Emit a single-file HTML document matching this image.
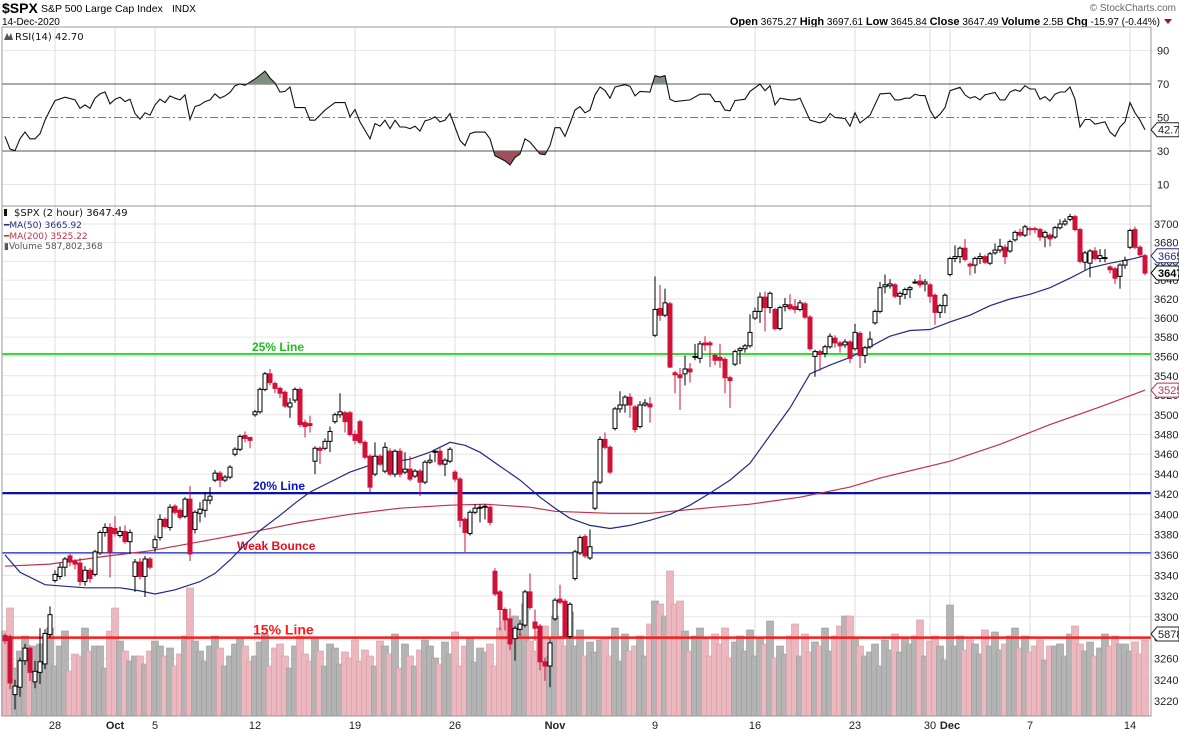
<!DOCTYPE html>
<html><head><meta charset="utf-8"><title>$SPX chart</title>
<style>
html,body{margin:0;padding:0;background:#fff;}
body{width:1179px;height:731px;overflow:hidden;font-family:"Liberation Sans",Arial,sans-serif;}
svg{display:block;}
</style></head>
<body>
<svg id="chart" width="1179" height="731" viewBox="0 0 1179 731" xmlns="http://www.w3.org/2000/svg">
  <g>
    <text x="2" y="13" font-family="Liberation Sans" font-size="14" font-weight="bold">$SPX</text>
    <text x="41" y="12" font-family="Liberation Sans" font-size="10.5">S&amp;P 500 Large Cap Index</text>
    <text x="172" y="12" font-family="Liberation Sans" font-size="10">INDX</text>
    <text x="2" y="25" font-family="Liberation Sans" font-size="10">14-Dec-2020</text>
    <text x="1160" y="25" text-anchor="end" font-family="Liberation Sans" font-size="10"><tspan font-weight="bold" font-size="11">Open</tspan> 3675.27 <tspan font-weight="bold" font-size="11">High</tspan> 3697.61 <tspan font-weight="bold" font-size="11">Low</tspan> 3645.84 <tspan font-weight="bold" font-size="11">Close</tspan> 3647.49 <tspan font-weight="bold" font-size="11">Volume</tspan> 2.5B <tspan font-weight="bold" font-size="11">Chg</tspan> -15.97 (-0.44%)</text>
    <polygon points="1164,19 1172,19 1168,24" fill="#a0103a"/>
    <text x="1176" y="11" text-anchor="end" font-family="Liberation Sans" font-size="10" fill="#666">© StockCharts.com</text>
  </g>
  <g id="grid"></g>
  <g id="rsi"></g>
  <g id="vol"></g>
  <g id="price"></g>
  <g id="axes"></g>
  <g>
    <polygon points="4,40 7,33 9,37 11,33 13,40" fill="#555"/>
    <text x="15" y="40" font-family="DejaVu Sans" font-size="10" fill="#111">RSI(14) 42.70</text>
  </g>
  <g>
    <rect x="4" y="209" width="3" height="7" fill="#111"/>
    <text x="14" y="216" font-family="DejaVu Sans" font-size="10" fill="#111">$SPX (2 hour) 3647.49</text>
    <text x="4" y="228" font-family="DejaVu Sans" font-size="9" fill="#222a80">━MA(50) 3665.92</text>
    <text x="4" y="239" font-family="DejaVu Sans" font-size="9" fill="#c0304a">━MA(200) 3525.22</text>
    <text x="4" y="249" font-family="DejaVu Sans" font-size="9" fill="#555">▮Volume 587,802,368</text>
  </g>
</svg>
<script>
// ---------- data ----------
const dateLabels = ["28","Oct","5","12","19","26","Nov","9","16","23","30","Dec","7","14"];
const dateBarIdx = [10,22,30,50,70,90,110,130,150,170,185,189,205,225];
const dateBold = [0,1,0,0,0,0,1,0,0,0,0,1,0,0];
const priceTicks = [3220,3240,3260,3280,3300,3320,3340,3360,3380,3400,3420,3440,3460,3480,3500,3520,3540,3560,3580,3600,3620,3640,3660,3680,3700];
const rsiTicks = [10,30,50,70,90];
const openP = [3282,3281,3226,3233,3258,3270,3238,3247,3255,3283,3335,3339,3348,3359,3354,3352,3334,3345,3341,3362,3382,3387,3386,3379,3383,3373,3339,3353,3339,3356,3367,3377,3395,3387,3408,3404,3398,3415,3385,3401,3404,3414,3434,3441,3434,3437,3460,3465,3479,3477,3500,3503,3526,3542,3532,3527,3523,3508,3515,3526,3492,3491,3453,3466,3466,3473,3493,3500,3502,3502,3480,3493,3472,3458,3440,3458,3443,3463,3440,3463,3442,3445,3438,3443,3432,3452,3463,3463,3450,3453,3442,3435,3395,3381,3402,3406,3407,3407,3344,3324,3307,3298,3279,3288,3292,3324,3295,3291,3257,3253,3298,3317,3315,3281,3337,3362,3378,3357,3406,3432,3475,3467,3486,3506,3510,3518,3508,3488,3510,3511,3582,3610,3603,3615,3543,3541,3542,3547,3559,3558,3574,3574,3561,3559,3557,3538,3552,3566,3568,3571,3600,3607,3622,3611,3609,3589,3612,3614,3612,3609,3615,3601,3560,3565,3563,3570,3579,3574,3572,3575,3568,3584,3561,3570,3595,3607,3633,3634,3635,3623,3625,3630,3638,3639,3636,3635,3624,3606,3613,3646,3663,3665,3674,3657,3656,3663,3665,3658,3669,3672,3675,3671,3683,3691,3688,3695,3695,3694,3686,3688,3686,3696,3700,3705,3708,3694,3659,3658,3671,3663,3664,3654,3652,3644,3656,3675,3694,3675,3666];
const closeP = [3277,3237,3234,3258,3270,3247,3248,3257,3284,3302,3341,3348,3356,3353,3351,3334,3345,3337,3363,3382,3387,3363,3381,3383,3373,3382,3353,3339,3356,3348,3375,3395,3388,3407,3402,3397,3415,3361,3402,3405,3414,3418,3441,3434,3437,3447,3465,3478,3476,3474,3503,3526,3542,3533,3527,3522,3509,3512,3526,3490,3488,3489,3466,3464,3473,3483,3500,3503,3493,3480,3474,3472,3457,3427,3458,3450,3467,3440,3463,3440,3445,3435,3443,3432,3452,3454,3463,3450,3454,3465,3435,3394,3382,3402,3406,3407,3408,3392,3322,3307,3297,3274,3289,3293,3324,3309,3289,3257,3253,3275,3316,3314,3281,3312,3363,3377,3359,3368,3432,3475,3467,3442,3506,3510,3518,3510,3485,3510,3512,3508,3609,3603,3616,3549,3541,3538,3547,3544,3560,3573,3572,3572,3556,3556,3538,3535,3565,3568,3571,3585,3607,3622,3611,3626,3589,3611,3614,3610,3609,3616,3601,3568,3565,3562,3570,3581,3574,3571,3575,3558,3585,3561,3569,3578,3607,3632,3635,3636,3623,3626,3630,3632,3638,3635,3638,3623,3606,3613,3624,3663,3665,3674,3662,3655,3663,3665,3659,3668,3672,3676,3665,3681,3691,3688,3697,3694,3694,3686,3691,3684,3696,3700,3703,3708,3694,3660,3669,3671,3663,3666,3664,3651,3642,3656,3661,3693,3675,3667,3647.5];
const highP = [3284,3283,3240,3261,3274,3273,3258,3289,3288,3310,3345,3352,3358,3361,3356,3357,3349,3347,3365,3384,3391,3391,3398,3388,3389,3385,3356,3357,3359,3358,3379,3400,3397,3410,3410,3406,3417,3428,3404,3412,3422,3427,3444,3443,3439,3449,3467,3480,3483,3477,3505,3528,3544,3547,3534,3529,3525,3517,3528,3528,3495,3499,3468,3468,3476,3488,3502,3522,3504,3504,3484,3495,3474,3460,3472,3460,3472,3466,3465,3466,3462,3458,3445,3445,3454,3460,3464,3466,3456,3467,3444,3437,3397,3404,3410,3410,3410,3409,3347,3326,3309,3308,3291,3297,3326,3342,3307,3293,3261,3279,3318,3331,3317,3314,3365,3379,3380,3385,3434,3478,3482,3469,3508,3524,3520,3522,3510,3514,3516,3518,3644,3635,3631,3617,3545,3548,3561,3553,3573,3576,3581,3576,3563,3573,3559,3540,3567,3570,3573,3604,3611,3627,3628,3628,3611,3613,3621,3625,3620,3619,3617,3603,3567,3567,3572,3584,3582,3576,3578,3577,3594,3586,3571,3586,3609,3638,3646,3641,3637,3628,3632,3634,3641,3646,3641,3637,3626,3615,3626,3665,3677,3676,3684,3659,3665,3669,3667,3670,3679,3684,3678,3683,3693,3695,3699,3697,3697,3696,3693,3690,3698,3705,3706,3711,3710,3696,3671,3673,3675,3673,3673,3656,3654,3658,3665,3695,3697,3677,3668];
const lowP = [3274,3231,3212,3224,3254,3239,3232,3236,3250,3280,3333,3336,3339,3349,3346,3330,3330,3333,3339,3360,3378,3338,3378,3377,3371,3361,3324,3336,3319,3346,3363,3374,3386,3384,3400,3395,3396,3354,3381,3392,3397,3410,3432,3427,3432,3435,3458,3463,3472,3466,3498,3501,3524,3530,3522,3517,3507,3497,3512,3487,3477,3482,3440,3450,3464,3462,3491,3497,3482,3478,3470,3470,3455,3422,3438,3448,3441,3438,3437,3437,3440,3433,3436,3418,3430,3450,3452,3448,3438,3451,3432,3387,3363,3379,3400,3392,3395,3389,3320,3287,3287,3268,3258,3282,3290,3307,3277,3249,3239,3233,3296,3312,3279,3279,3335,3360,3357,3355,3404,3430,3465,3440,3484,3502,3502,3497,3482,3486,3508,3492,3580,3597,3601,3548,3522,3505,3530,3533,3556,3553,3566,3549,3551,3548,3522,3507,3550,3552,3564,3569,3598,3595,3586,3605,3587,3587,3607,3608,3605,3607,3599,3566,3539,3545,3559,3568,3569,3564,3569,3553,3566,3548,3553,3568,3593,3605,3626,3631,3621,3614,3620,3621,3636,3632,3628,3616,3593,3600,3605,3644,3659,3658,3660,3645,3647,3657,3657,3656,3667,3669,3657,3669,3681,3686,3686,3688,3690,3682,3675,3676,3684,3694,3698,3703,3692,3658,3651,3643,3661,3659,3659,3647,3636,3631,3652,3673,3673,3665,3645];
const volume = [85,108,48,65,80,50,70,72,55,88,50,70,85,45,62,60,88,65,70,70,48,85,108,75,65,55,60,60,52,65,75,70,60,68,50,62,80,128,75,65,55,70,80,68,50,60,72,78,70,55,60,74,82,50,68,72,60,48,70,80,62,55,78,65,50,72,68,52,64,58,76,55,66,60,50,75,70,62,82,48,72,60,50,66,76,70,58,52,74,62,84,50,70,78,54,68,64,72,50,88,95,90,100,82,112,75,65,85,90,60,100,80,70,104,70,86,60,74,64,76,78,60,88,55,82,65,70,80,60,92,115,112,100,145,112,115,85,65,80,88,78,60,82,72,88,58,74,80,65,86,60,78,72,95,58,70,62,80,92,60,82,64,74,70,88,65,80,90,100,100,78,70,60,64,72,50,76,66,82,64,78,72,80,96,60,75,80,70,56,111,70,80,66,76,72,62,86,70,84,66,72,80,88,68,80,64,70,76,56,70,70,72,60,82,90,72,65,74,60,68,82,70,80,72,72,65,74,62,76];
const ma50Idx = [0,3,8,16,23,27,30,34,39,42,45,48,51,55,58,61,65,69,73,77,81,85,89,92,95,99,103,107,110,113,117,121,125,129,133,137,141,145,149,153,157,161,165,169,173,177,181,185,189,193,197,201,205,209,213,217,221,225,228];
const ma50Val = [3360,3343,3331,3328,3328,3325,3322,3326,3334,3342,3355,3370,3384,3399,3411,3422,3432,3442,3449,3452,3455,3462,3472,3469,3462,3448,3434,3417,3406,3396,3389,3386,3389,3394,3400,3409,3421,3434,3451,3479,3507,3542,3551,3559,3570,3581,3587,3588,3596,3603,3613,3620,3625,3632,3642,3653,3658,3662,3665.9];
const ma200Idx = [0,9,19,29,39,49,59,69,79,89,96,105,110,121,129,142,149,159,169,175,189,199,209,219,228];
const ma200Val = [3349,3351,3358,3364,3373,3382,3392,3400,3406,3409,3410,3407,3403,3401,3401,3407,3410,3417,3427,3436,3453,3470,3490,3508,3525.2];
const rsiIdx = [0,1,2,3,4,5,6,7,8,9,10,12,14,15,16,17,18,19,20,21,22,23,24,25,26,27,28,29,30,31,32,33,34,35,36,37,38,39,40,41,42,43,44,45,46,47,48,50,52,53,54,55,56,57,58,60,61,62,63,64,66,68,69,70,71,72,73,74,75,76,77,78,79,80,81,82,83,84,85,86,87,88,89,90,91,92,93,94,96,97,98,100,101,102,103,104,105,106,107,108,109,110,111,112,113,114,115,116,117,118,119,120,121,122,124,125,126,127,129,130,131,132,133,134,137,139,141,142,143,144,145,146,148,149,151,152,153,154,155,157,158,159,161,163,164,165,166,168,169,170,171,173,175,177,178,179,180,181,182,183,184,185,186,187,188,189,191,192,193,194,195,196,198,199,200,201,202,203,204,205,206,207,208,209,210,211,212,213,214,215,216,217,218,220,221,222,223,224,225,226,227,228];
const rsiVal = [38.7,31.2,30.2,37.3,41.3,37.3,37.3,40.3,48.4,54.4,60.1,62.1,60.5,55.5,57.5,55.5,61.5,64.1,65.2,58.1,60.9,62.1,59.5,60.9,52.4,49,52.8,51.4,57.5,60.9,58.9,62.9,61.5,60.5,63.5,48.8,56.5,57.5,59.5,60.5,64.1,61.5,62.9,64.9,69,70,69.2,73,77.7,73.6,70.6,65.2,65.6,68.2,55.9,55.9,48.4,48.4,51.4,54.4,58.9,58.9,50.4,54.8,47.4,42.3,37.3,46.4,44.8,48.4,43.3,48.4,44.3,44.3,43.3,44.8,41.9,48,48.8,50.4,47.4,48.4,52.4,44.3,36.3,33.2,40.3,41.3,41.3,37.3,27.2,24.1,21.7,26.2,28.2,37.3,35.3,31.8,28.2,27.8,33.2,43.9,43.9,38.7,46.4,54.5,56.5,52.8,54.4,63.5,68.2,66.2,61.5,68.2,69.6,68.6,62.9,65.6,65.2,75,74.2,75,60.9,59.5,60.5,63.9,63.9,59.5,59.5,54.4,54,60.1,60.9,65.6,70,66,69,57.5,61.5,60.5,60.5,61.5,48.4,46.8,48,52.4,50,49.4,44.8,52.8,46.8,51.4,64.1,64.5,60.5,60.5,61.5,61.5,63.9,63.1,63.1,54.4,49.4,52,55.9,66,68,63.5,61.5,62.5,60.5,63.5,64.9,60.5,60.5,65.2,66.6,65.6,69,67,67,60.9,62.5,59.9,63.9,65.2,65.2,68.2,60.9,44.3,48.8,48.8,46,47.4,41.3,38.7,44.3,47.4,58.9,52.8,48.4,42.7];
const annoPrices = [3562.5,3421,3362,3280];
const annoLabels = ["25% Line","20% Line","Weak Bounce","15% Line"];

// ---------- axes ----------
const NS = "http://www.w3.org/2000/svg";
const L = 2, R = 1151;
const RSI_TOP = 27, RSI_BOT = 206, P_BOT = 716;
function xOf(i){ return 5 + 5*i; }
function yP(p){ return 224 + 3433*Math.log(3700/p); }
function yR(v){ return 84 + (70 - v)*1.675; }
function yV(v){ return P_BOT - v; }
function mk(tag, attrs, parent){
  const e = document.createElementNS(NS, tag);
  for (const k in attrs) e.setAttribute(k, attrs[k]);
  parent.appendChild(e);
  return e;
}
const grid = document.getElementById('grid');
const rsiG = document.getElementById('rsi');
const volG = document.getElementById('vol');
const priceG = document.getElementById('price');
const axes = document.getElementById('axes');

priceTicks.forEach(function(t){
  const ln = mk('line',{x1:L,x2:R,y1:yP(t),y2:yP(t),stroke:'#e6e6e6','stroke-width':1},grid);
  
  
  const tx = mk('text',{x:1154,y:yP(t)+4,'font-size':11,'font-family':'Liberation Sans',fill:'#222'},axes);
  tx.textContent = t;
  
  
});
rsiTicks.forEach(function(t){
  if (t===10||t===90){
    const ln = mk('line',{x1:L,x2:R,y1:yR(t),y2:yR(t),stroke:'#e6e6e6'},grid);
    
    
  }
  const tx = mk('text',{x:1157,y:yR(t)+4,'font-size':11,'font-family':'Liberation Sans',fill:'#222'},axes);
  tx.textContent = t;
  
  
});
dateBarIdx.forEach(function(bi,k){
  const x = xOf(bi);
  const ln = mk('line',{x1:x,x2:x,y1:RSI_TOP,y2:P_BOT,stroke:'#dcdcdc'},grid);
  
  
  const tx = mk('text',{x:x,y:729,'text-anchor':'middle','font-size':11,'font-family':'Liberation Sans','font-weight':dateBold[k]?'bold':'normal',fill:'#222'},axes);
  tx.textContent = dateLabels[k];
  
  
});

const b1 = mk('rect',{x:L,y:RSI_TOP,width:R-L,height:RSI_BOT-RSI_TOP,fill:'none',stroke:'#999'},axes);


const b2 = mk('rect',{x:L,y:RSI_BOT,width:R-L,height:P_BOT-RSI_BOT,fill:'none',stroke:'#999'},axes);



// ---------- RSI ----------
[70,30].forEach(function(t){
  const ln = mk('line',{x1:L,x2:R,y1:yR(t),y2:yR(t),stroke:'#555','stroke-width':1},rsiG);
  
  
});
const mid = mk('line',{x1:L,x2:R,y1:yR(50),y2:yR(50),stroke:'#777','stroke-dasharray':'8,3,2,3'},rsiG);


let rsiPts = rsiIdx.map(function(bi,k){ return xOf(bi)+','+yR(rsiVal[k]).toFixed(1); });
const defs = mk('defs',{},rsiG);
const c1 = mk('clipPath',{id:'above70'},defs); mk('rect',{x:0,y:0,width:1179,height:yR(70)},c1);
const c2 = mk('clipPath',{id:'below30'},defs); mk('rect',{x:0,y:yR(30),width:1179,height:100},c2);
const polyA = mk('polygon',{points:rsiPts.join(' ')+' '+xOf(rsiIdx[rsiIdx.length-1])+','+yR(70)+' '+xOf(rsiIdx[0])+','+yR(70),fill:'#7f8f7f','clip-path':'url(#above70)'},rsiG);


const polyB = mk('polygon',{points:rsiPts.join(' ')+' '+xOf(rsiIdx[rsiIdx.length-1])+','+yR(30)+' '+xOf(rsiIdx[0])+','+yR(30),fill:'#a0505a','clip-path':'url(#below30)'},rsiG);


const rsiLine = mk('polyline',{points:rsiPts.join(' '),fill:'none',stroke:'#111','stroke-width':1.1},rsiG);



// ---------- volume ----------
volume.forEach(function(v,i){
  const up = closeP[i] >= openP[i];
  const r = mk('rect',{x:xOf(i)-3.5,y:yV(v),width:7,height:v,fill:up?'#b4b4b4':'#eab8be',stroke:up?'#9a9a9a':'#d89aa2','stroke-width':0.6},volG);
  
  
});

// ---------- annotation lines ----------
const annoColors = ['#33dd33','#0a10a8','#1520b0','#ff1a1a'];
const annoWidths = [2,2.2,1.2,2.5];
const annoTextColors = ['#22bb22','#0a10c8','#e01020','#ff1a1a'];
const annoTextX = [252,253,237,253];
annoPrices.forEach(function(p,k){
  const ln = mk('line',{x1:L,x2:R,y1:yP(p),y2:yP(p),stroke:annoColors[k],'stroke-width':annoWidths[k]},priceG);
  
  
  const tx = mk('text',{x:annoTextX[k],y:yP(p)-3,'font-size':k===3?14:12,'font-weight':'bold','font-family':'Liberation Sans',fill:annoTextColors[k]},priceG);
  tx.textContent = annoLabels[k];
  
  
});

// ---------- moving averages ----------
const ma200 = mk('polyline',{points:ma200Idx.map(function(bi,k){return xOf(bi)+','+yP(ma200Val[k]).toFixed(1);}).join(' '),fill:'none',stroke:'#c0304a','stroke-width':1.2},priceG);


const ma50 = mk('polyline',{points:ma50Idx.map(function(bi,k){return xOf(bi)+','+yP(ma50Val[k]).toFixed(1);}).join(' '),fill:'none',stroke:'#222a80','stroke-width':1.2},priceG);



// ---------- candles ----------
openP.forEach(function(o,i){
  const c = closeP[i], h = highP[i], l = lowP[i], x = xOf(i);
  const up = c >= o;
  const col = up ? '#000' : '#d01238';
  const g = mk('g',{},priceG);
  
  
  mk('line',{x1:x,x2:x,y1:yP(h),y2:yP(l),stroke:col,'stroke-width':1},g);
  const yt = yP(Math.max(o,c)), yb = yP(Math.min(o,c));
  mk('rect',{x:x-2,y:yt,width:4,height:Math.max(1,yb-yt),fill:up?'#fff':'#d01238',stroke:col,'stroke-width':1},g);
});

// ---------- right-side value tags ----------
function tag(y, text, color, bold, name){
  const g = mk('g',{},axes);
  
  
  mk('polygon',{points:(R)+','+y+' '+(R+6)+','+(y-7)+' 1179,'+(y-7)+' 1179,'+(y+7)+' '+(R+6)+','+(y+7),fill:'#fff',stroke:color,'stroke-width':1},g);
  const t = mk('text',{x:R+7,y:y+4,'font-size':11,'font-family':'Liberation Sans','font-weight':bold?'bold':'normal',fill:color},g);
  t.textContent = text;
}
tag(yR(rsiVal[rsiVal.length-1]), '42.70', '#222', false, 'rsi-value-tag');
tag(yP(ma200Val[ma200Val.length-1]), '3525.22', '#c0304a', false, 'ma200-value-tag');
tag(yP(ma50Val[ma50Val.length-1]), '3665.92', '#222a80', false, 'ma50-value-tag');
tag(yP(closeP[closeP.length-1]), '3647.49', '#000', true, 'close-value-tag');
tag(634, '587802368', '#222', false, 'volume-value-tag');
</script>
</body></html>
